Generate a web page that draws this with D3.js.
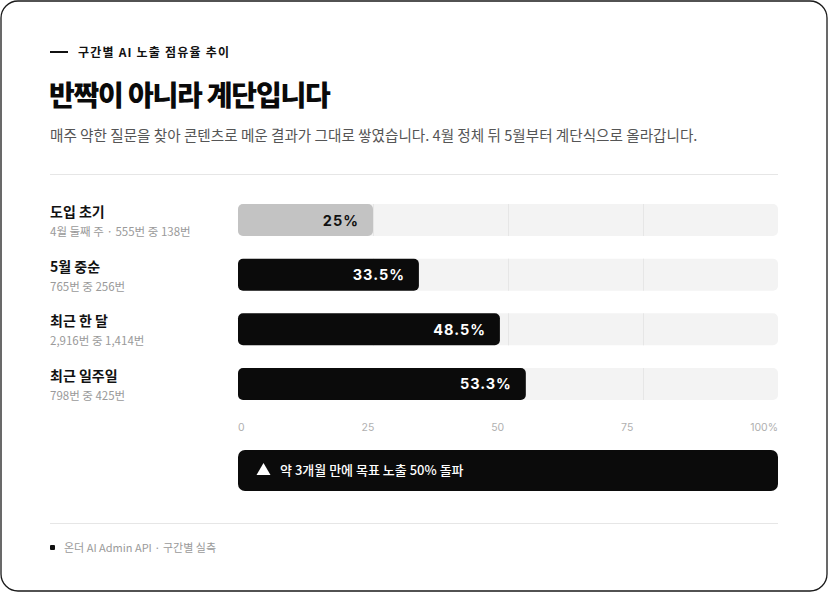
<!DOCTYPE html>
<html><head><meta charset="utf-8">
<script src="https://cdn.jsdelivr.net/npm/d3@7"></script>
<style>
html,body{margin:0;padding:0;background:#fff;}
svg{display:block;font-family:"Noto Sans CJK KR","Noto Sans",sans-serif;}
</style></head>
<body><svg id="c" width="828" height="592"></svg>
<script>
const eyebrow = "구간별 AI 노출 점유율 추이";
const title = "반짝이 아니라 계단입니다";
const subtitle = "매주 약한 질문을 찾아 콘텐츠로 메운 결과가 그대로 쌓였습니다. 4월 정체 뒤 5월부터 계단식으로 올라갑니다.";
const categories = ["도입 초기", "5월 중순", "최근 한 달", "최근 일주일"];
const details = ["4월 둘째 주 · 555번 중 138번", "765번 중 256번", "2,916번 중 1,414번", "798번 중 425번"];
const values = [25, 33.5, 48.5, 53.3];
const valueLabels = ["25%", "33.5%", "48.5%", "53.3%"];
const tickValues = [0, 25, 50, 75, 100];
const tickLabels = ["0", "25", "50", "75", "100%"];
const callout = "약 3개월 만에 목표 노출 50% 돌파";
const source = "온더 AI Admin API · 구간별 실측";

const svg = d3.select("#c");
// frame
svg.append("rect").attr("x",1).attr("y",1).attr("width",826).attr("height",590)
  .attr("rx",17).attr("fill","#fff").attr("stroke","#1a1a1a").attr("stroke-width",1.3);

// header
svg.append("line").attr("x1",50).attr("x2",68).attr("y1",52).attr("y2",52).attr("stroke","#111").attr("stroke-width",2);
svg.append("text").attr("x",78).attr("y",56.5).attr("font-size",12).attr("font-weight",700)
  .attr("letter-spacing","1.2px").attr("fill","#111").text(eyebrow);
svg.append("text").attr("x",49).attr("y",106).attr("font-size",28).attr("font-weight",900)
  .attr("letter-spacing","-1.2px").attr("fill","#0a0a0a").text(title);
svg.append("text").attr("x",50).attr("y",141).attr("font-size",14.6).attr("font-weight",400)
  .attr("fill","#555").text(subtitle);
svg.append("line").attr("x1",50).attr("x2",778).attr("y1",174.5).attr("y2",174.5).attr("stroke","#e6e6e6");

// scales
const x = d3.scaleLinear().domain([0,100]).range([238,778]);
const y = d3.scaleBand().domain(categories).range([204,400]).paddingInner(0.4146).paddingOuter(0);
const bh = y.bandwidth();

const rows = svg.append("g").selectAll("g").data(categories).join("g");
// track
rows.append("rect").attr("x",x(0)).attr("y",d=>y(d)).attr("width",x(100)-x(0)).attr("height",bh)
  .attr("rx",5).attr("fill","#f3f3f3");
// gridlines
rows.each(function(d){
  d3.select(this).selectAll("line.g").data(tickValues.slice(1,4)).join("line")
    .attr("x1",t=>x(t)+0.5).attr("x2",t=>x(t)+0.5).attr("y1",y(d)).attr("y2",y(d)+bh)
    .attr("stroke","#e6e6e6").attr("stroke-width",1);
});
// bars
rows.append("rect").attr("x",x(0)).attr("y",d=>y(d)).attr("width",(d,i)=>x(values[i])-x(0)).attr("height",bh)
  .attr("rx",5).attr("fill",(d,i)=>i===0?"#c3c3c3":"#0b0b0b");
rows.append("text").attr("x",(d,i)=>x(values[i])-14).attr("y",d=>y(d)+bh/2+5.5)
  .attr("text-anchor","end").attr("font-size",14.5).attr("font-weight",700).attr("letter-spacing","1px")
  .attr("font-family","Inter, 'Noto Sans', sans-serif")
  .attr("fill",(d,i)=>i===0?"#111":"#fff").text((d,i)=>valueLabels[i]);
// row labels
rows.append("text").attr("x",50).attr("y",d=>y(d)+13).attr("font-size",14).attr("font-weight",700)
  .attr("fill","#111").text(d=>d);
rows.append("text").attr("x",50).attr("y",(d,i)=>y(d)+32).attr("font-size",11.5).attr("font-weight",400)
  .attr("fill","#9a9a9a").text((d,i)=>details[i]);

// axis labels, distributed space-between across the scale range
const ax = svg.append("g");
const tl = ax.selectAll("text").data(tickLabels).join("text").attr("y",431)
  .attr("font-size",10.5).attr("fill","#b0b0b0").attr("font-family","Inter, 'Noto Sans', sans-serif").text(d=>d);
const widths = tl.nodes().map(n=>n.getComputedTextLength());
const total = widths.reduce((a,b)=>a+b,0);
const gap = (x(100)-x(0)-total)/(tickLabels.length-1);
let cx = x(0);
tl.each(function(d,i){ d3.select(this).attr("x",cx); cx += widths[i]+gap; });

// callout
svg.append("rect").attr("x",x(0)).attr("y",450).attr("width",x(100)-x(0)).attr("height",41)
  .attr("rx",7).attr("fill","#0b0b0b");
svg.append("path").attr("d","M263.5,463 L270.5,475 L256.5,475 Z").attr("fill","#fff");
svg.append("text").attr("x",280).attr("y",475).attr("font-size",13).attr("font-weight",500)
  .attr("fill","#fff").text(callout);

// footer
svg.append("line").attr("x1",50).attr("x2",778).attr("y1",523.5).attr("y2",523.5).attr("stroke","#e6e6e6");
svg.append("rect").attr("x",50).attr("y",545).attr("width",5).attr("height",5).attr("rx",1).attr("fill","#111");
svg.append("text").attr("x",64).attr("y",552).attr("font-size",11).attr("fill","#9a9a9a").text(source);
</script></body></html>
